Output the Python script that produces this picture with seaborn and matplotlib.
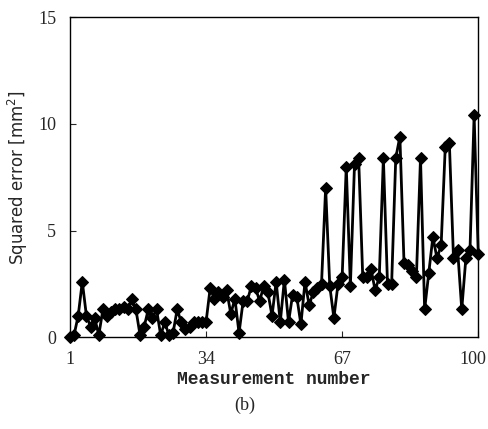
import matplotlib

matplotlib.use("Agg")

import matplotlib.pyplot as plt  # noqa: E402
import matplotlib.transforms as mtransforms  # noqa: E402
import numpy as np  # noqa: E402
import pandas as pd  # noqa: E402
import seaborn as sns  # noqa: E402

# Valores leídos a ojo del gráfico original (error cuadrático por medición)
measurement = np.arange(1, 101)
squared_error = [
    0.0, 0.1, 1.0, 2.6, 1.0, 0.5, 0.9, 0.1, 1.3, 1.0,
    1.2, 1.3, 1.3, 1.4, 1.3, 1.8, 1.3, 0.1, 0.5, 1.3,
    0.9, 1.3, 0.1, 0.7, 0.1, 0.2, 1.3, 0.7, 0.4, 0.5,
    0.7, 0.7, 0.7, 0.7, 2.3, 1.8, 2.1, 1.9, 2.2, 1.1,
    1.8, 0.2, 1.7, 1.7, 2.4, 2.3, 1.7, 2.4, 2.1, 1.0,
    2.6, 0.7, 2.7, 0.7, 2.0, 1.9, 0.6, 2.6, 1.5, 2.1,
    2.3, 2.5, 7.0, 2.4, 0.9, 2.5, 2.8, 8.0, 2.4, 8.1,
    8.4, 2.8, 2.8, 3.2, 2.2, 2.8, 8.4, 2.5, 2.5, 8.4,
    9.4, 3.5, 3.4, 3.1, 2.8, 8.4, 1.3, 3.0, 4.7, 3.7,
    4.3, 8.9, 9.1, 3.7, 4.1, 1.3, 3.7, 4.1, 10.4, 3.9,
]
x_ticks = [1, 34, 67, 100]
y_ticks = [0, 5, 10, 15]

df = pd.DataFrame({"n": measurement, "err": squared_error})

sns.set_theme(style="ticks")
plt.rcParams["font.family"] = ["Liberation Serif", "DejaVu Serif"]

fig = plt.figure(figsize=(4.89, 4.29), dpi=100)
ax = fig.add_axes([0.143, 0.214, 0.835, 0.746])

sns.lineplot(
    data=df, x="n", y="err", ax=ax, color="black", linewidth=2.0,
    marker="D", markersize=6.5, markeredgecolor="black", clip_on=False,
)

ax.set_xlim(1, 100)
ax.set_ylim(0, 15)
ax.set_xticks(x_ticks)
ax.set_yticks(y_ticks)
ax.tick_params(direction="in", length=4, width=0.8, labelsize=13, pad=10)
for s in ax.spines.values():
    s.set_linewidth(1.0)
    s.set_color("black")

# La etiqueta "100" se corta en el borde derecho: la corremos unos píxeles
last = ax.get_xticklabels()[-1]
last.set_transform(last.get_transform()
                   + mtransforms.ScaledTranslation(-5 / 100, 0, fig.dpi_scale_trans))

ax.set_xlabel("Measurement number", family="Liberation Mono",
              fontweight="bold", fontsize=13, labelpad=2)
ax.set_ylabel("Squared error [mm$^2$]", family="DejaVu Sans",
              fontsize=12, labelpad=6)
fig.text(0.5, 0.055, "(b)", ha="center", va="center", fontsize=13)

fig.savefig("out.png", dpi=100)
plt.close(fig)
